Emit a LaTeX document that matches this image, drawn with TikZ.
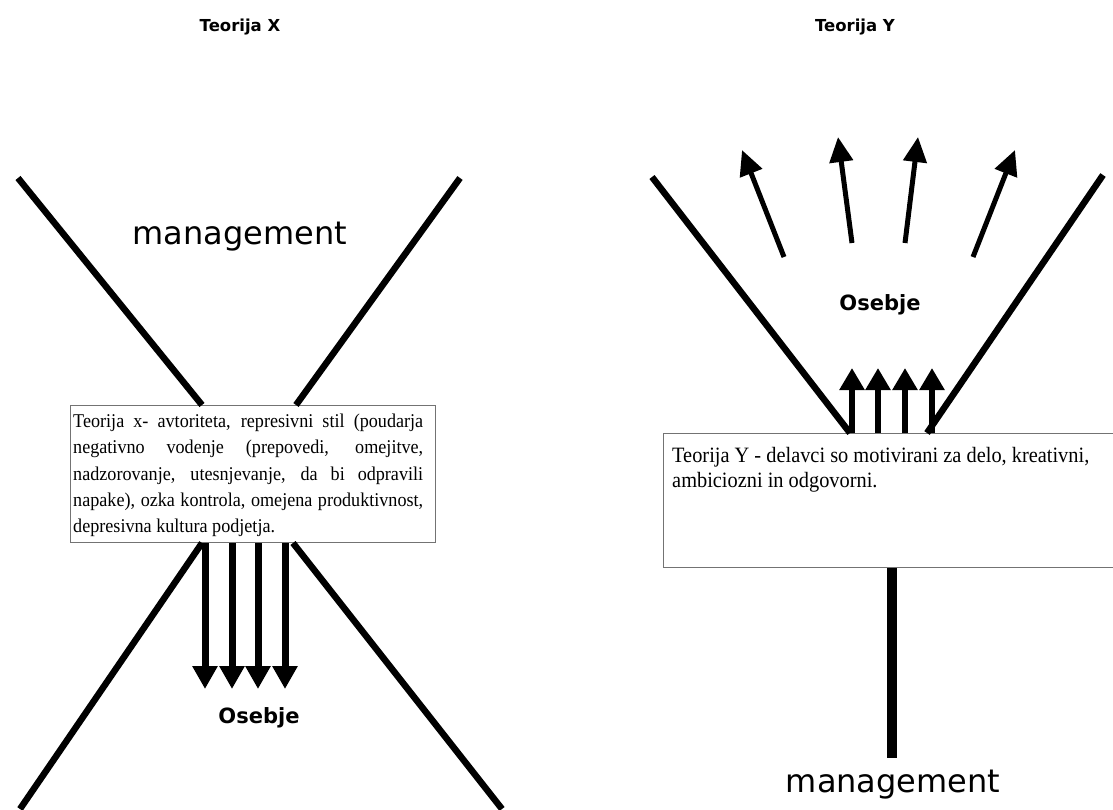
\documentclass[tikz,border=0pt]{standalone}
\usepackage{fontspec}
\setmainfont{Liberation Serif}
\newfontfamily\boxfont[FakeStretch=0.93]{Liberation Serif}
\newfontfamily\labelfont{DejaVu Sans}
\usetikzlibrary{arrows.meta}

\begin{document}
\begin{tikzpicture}[x=1pt,y=-1pt,
    bar/.style={line width=6.5pt},
    bigarrow/.style={line width=7pt,-{Triangle[width=24pt,length=23pt]}},
    smallarrow/.style={line width=6pt,-{Triangle[width=24pt,length=22pt]}},
    fanarrow/.style={line width=5pt,-{Triangle[width=23pt,length=25pt]}},
    textbox/.style={draw=black!55,line width=1pt,fill=white,inner sep=0pt,anchor=north west},
    boxtext/.style={inner sep=0pt,anchor=north west},
    title/.style={font=\labelfont\bfseries\fontsize{16.5}{19}\selectfont},
    staff/.style={font=\labelfont\bfseries\fontsize{21}{25}\selectfont},
    big/.style={font=\labelfont\fontsize{32}{38}\selectfont}]
\useasboundingbox (0,0) rectangle (1113,809);

% Teorija X
\node[title] (titlex) at (240,27) {Teorija X};
\node[big] (mgmtx) at (240,237) {management};
\node[staff] (osebjex) at (259,718) {Osebje};
\node[textbox,minimum width=365,minimum height=137] (xbox) at (70,405) {};
\node[boxtext,text width=350,align=justify,font=\boxfont\fontsize{19.5}{26.25}\selectfont] (xtext) at ([xshift=3,yshift=-9]xbox.north west)
    {Teorija x- avtoriteta, represivni stil (poudarja\linebreak negativno vodenje (prepovedi, omejitve,\linebreak nadzorovanje, utesnjevanje, da bi odpravili\linebreak napake), ozka kontrola, omejena produktivnost,\linebreak depresivna kultura podjetja.};
\coordinate (xtl) at (18,178);
\coordinate (xtr) at (460,178);
\coordinate (xbl) at (20,809);
\coordinate (xbr) at (502,809);
\draw[bar] (xtl) -- ([xshift=132]xbox.north west);
\draw[bar] (xtr) -- ([xshift=226]xbox.north west);
\draw[bar] ([xshift=132]xbox.south west) -- (xbl);
\draw[bar] ([xshift=223]xbox.south west) -- (xbr);
\draw[bigarrow] ([xshift=135]xbox.south west) -- ++(0,146);
\draw[bigarrow] ([xshift=162]xbox.south west) -- ++(0,146);
\draw[bigarrow] ([xshift=188]xbox.south west) -- ++(0,146);
\draw[bigarrow] ([xshift=215]xbox.south west) -- ++(0,146);

% Teorija Y
\node[title] (titley) at (855,27) {Teorija Y};
\node[staff] (osebjey) at (880,305) {Osebje};
\node[big] (mgmty) at (893,785) {management};
\node[textbox,minimum width=451,minimum height=134] (ybox) at (663,433) {};
\node[boxtext,align=left,font=\boxfont\fontsize{21.9}{25}\selectfont] (ytext) at ([xshift=9,yshift=-14]ybox.north west)
    {Teorija Y - delavci so motivirani za delo, kreativni,\\ ambiciozni in odgovorni.};
\coordinate (ytl) at (652,177);
\coordinate (ytr) at (1103,175);
\draw[bar] (ytl) -- ([xshift=187]ybox.north west);
\draw[bar] (ytr) -- ([xshift=264]ybox.north west);
\draw[smallarrow] ([xshift=189]ybox.north west) -- ++(0,-65);
\draw[smallarrow] ([xshift=215]ybox.north west) -- ++(0,-65);
\draw[smallarrow] ([xshift=242]ybox.north west) -- ++(0,-65);
\draw[smallarrow] ([xshift=269]ybox.north west) -- ++(0,-65);
\draw[line width=10pt] ([xshift=229]ybox.south west) -- ++(0,190);
\draw[fanarrow] (784,257) -- (742,150);
\draw[fanarrow] (852,243) -- (838,137);
\draw[fanarrow] (905,243) -- (918,137);
\draw[fanarrow] (973,257) -- (1015,150);
\end{tikzpicture}
\end{document}
